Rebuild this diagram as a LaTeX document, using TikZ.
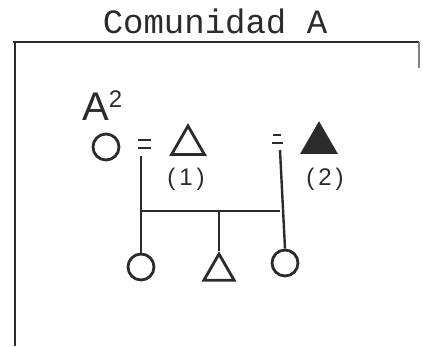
\documentclass[tikz,border=0pt]{standalone}
\usepackage{fontspec}
\setmainfont{Liberation Sans}
\newfontfamily\titlefont{Liberation Mono}
\newfontfamily\handfont{Liberation Sans}
\usetikzlibrary{shapes.geometric}
\definecolor{ink}{HTML}{2B2B2B}
\tikzset{
  frameline/.style={draw=ink, line width=2.3pt},
  kinline/.style={draw=ink, line width=2.4pt},
  female/.style={circle, draw=ink, line width=2.8pt, minimum size=26pt, inner sep=0pt},
  male/.style={regular polygon, regular polygon sides=3, draw=ink, line width=2.8pt, minimum size=38pt, inner sep=0pt, fill=white},
  malefilled/.style={male, fill=ink},
  hand/.style={text=ink, inner sep=0pt},
  marriage/.style={draw=ink, line width=2pt}
}
\begin{document}
\begin{tikzpicture}[x=1pt,y=-1pt]
\useasboundingbox (0,0) rectangle (423,346);
% title
\node[hand, anchor=base, font=\titlefont\fontsize{34}{34}\selectfont] (title) at (215,33) {Comunidad A};
% frame
\coordinate (ftl) at (15,42);
\coordinate (ftr) at (419,42);
\coordinate (fbl) at (15,346);
\coordinate (frs) at (419,68);
\draw[frameline] (13,42) -- (ftr);
\draw[frameline] (ftl) -- (fbl);
\draw[frameline, draw=ink!60] (ftr) -- (frs);
% label
\node[hand, anchor=base west, font=\handfont\fontsize{40}{40}\selectfont] (lab) at (82,120) {A\raisebox{13pt}{\fontsize{24}{24}\selectfont 2}};
% first generation
\node[female] (w) at (106,147) {};
\node[male] (h1) at (188,145) {};
\node[malefilled] (h2) at (319,143) {};
\node[hand, font=\handfont\fontsize{24}{24}\selectfont] (l1) at (186,179) {(\,1\,)};
\node[hand, font=\handfont\fontsize{24}{24}\selectfont] (l2) at (325,179) {(\,2\,)};
% marriage marks
\draw[marriage] (138,140) -- (151,140);
\draw[marriage] (138,148) -- (151,148);
\draw[marriage] (273,135) -- (281,135);
\draw[marriage] (272,143) -- (283,143);
% children
\node[female] (c1) at (141,267) {};
\node[male, minimum size=35pt] (c2) at (219,271.5) {};
\node[female] (c3) at (285,263) {};
% descent lines
\coordinate (m1) at (141,156);
\coordinate (m2) at (280,150);
\coordinate (jl) at (141,211);
\coordinate (jr) at (280,211);
\coordinate (jm) at (219,211);
\draw[kinline] (m1) -- (c1.north);
\draw[kinline] (m2) -- (c3.north);
\draw[kinline] (jl) -- (jr);
\draw[kinline] (jm) -- (c2.corner 1);
\end{tikzpicture}
\end{document}
